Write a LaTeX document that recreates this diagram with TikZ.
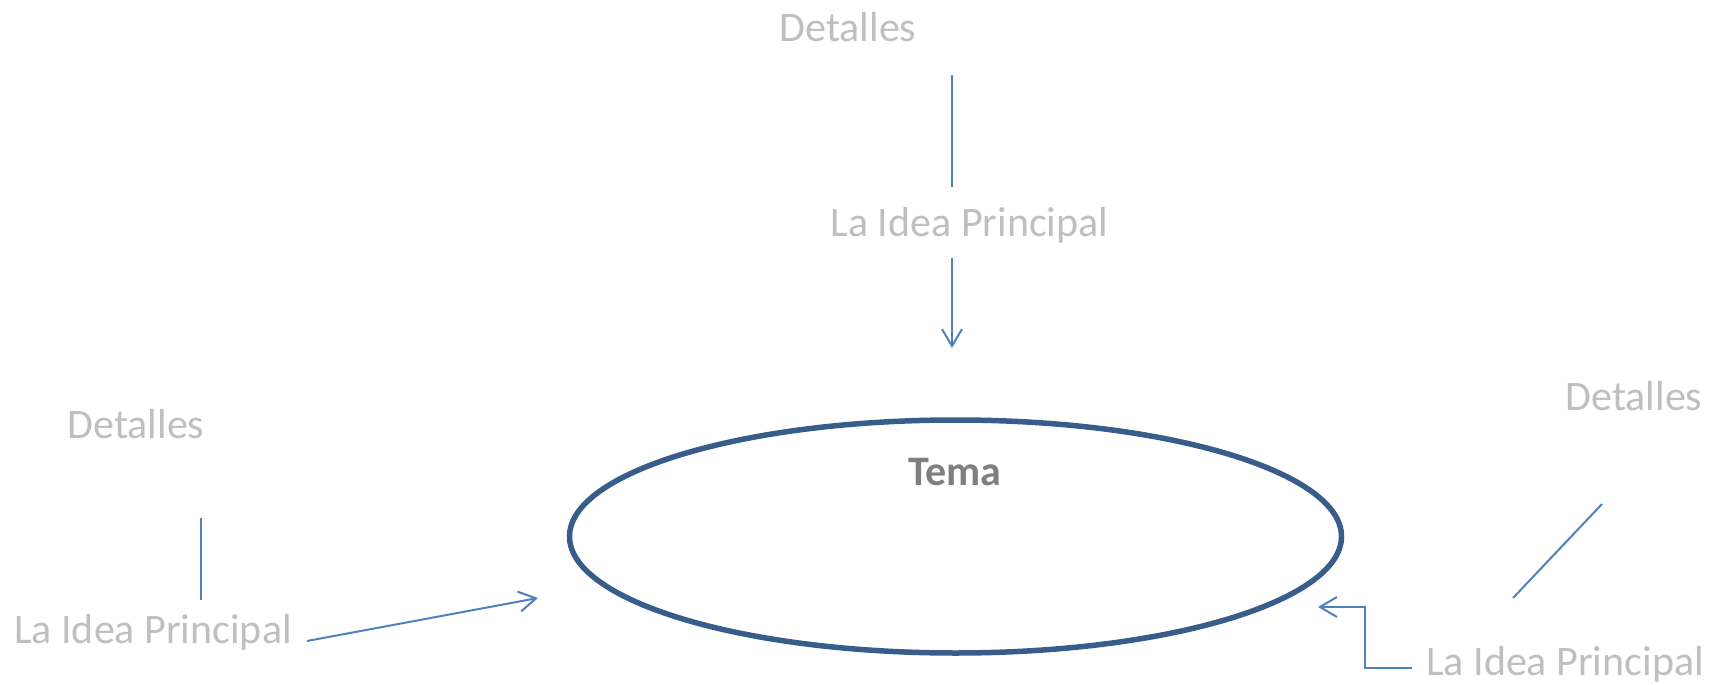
\documentclass[tikz,border=0pt]{standalone}
\usepackage{fontspec}
\setmainfont{Carlito}
\usetikzlibrary{arrows.meta,shapes.geometric}
\definecolor{lblgray}{HTML}{BFBFBF}
\definecolor{temagray}{HTML}{7F7F7F}
\definecolor{ringblue}{HTML}{385D8A}
\definecolor{connblue}{HTML}{4F81BD}
\begin{document}
\begin{tikzpicture}[x=1pt,y=-1pt,
  lbl/.style={text=lblgray, font=\fontsize{42}{50}\selectfont, anchor=base, inner sep=0pt},
  temalbl/.style={text=temagray, font=\fontsize{42}{50}\selectfont\bfseries, anchor=base, inner sep=0pt},
  ring/.style={ellipse, draw=ringblue, line width=5.5pt, minimum width=772pt, minimum height=233pt, inner sep=0pt},
  conn/.style={draw=connblue, line width=2pt},
  arr/.style={conn, -{Straight Barb[length=17pt,width=20pt]}}]
\useasboundingbox (0,0) rectangle (1714,685);
% central ellipse
\node[ring] (ell) at (955.5,536.5) {};
\node[temalbl] (tema) at (955,485) {Tema};
% top branch
\node[lbl] (detTop) at (848,42) {Detalles};
\node[lbl] (ideaTop) at (969.5,236) {La Idea Principal};
\coordinate (t1) at (952,75);
\coordinate (t2) at (952,187);
\coordinate (a1) at (952,258);
\coordinate (a2) at (952,348);
\draw[conn] (t1) -- (t2);
\draw[arr] (a1) -- (a2);
% left branch
\node[lbl] (detLeft) at (136,438) {Detalles};
\node[lbl] (ideaLeft) at (153,643) {La Idea Principal};
\coordinate (l1) at (201,518);
\coordinate (l2) at (201,600);
\coordinate (la1) at (307,641);
\coordinate (la2) at (538,598);
\draw[conn] (l1) -- (l2);
\draw[arr] (la1) -- (la2);
% right branch
\node[lbl] (detRight) at (1634,410) {Detalles};
\node[lbl] (ideaRight) at (1565,675) {La Idea Principal};
\coordinate (r1) at (1602,504);
\coordinate (r2) at (1513,598);
\coordinate (ra1) at (1412,668);
\coordinate (ra2) at (1365,668);
\coordinate (ra3) at (1365,607);
\coordinate (ra4) at (1318,607);
\draw[conn] (r1) -- (r2);
\draw[arr] (ra1) -- (ra2) -- (ra3) -- (ra4);
\end{tikzpicture}
\end{document}
